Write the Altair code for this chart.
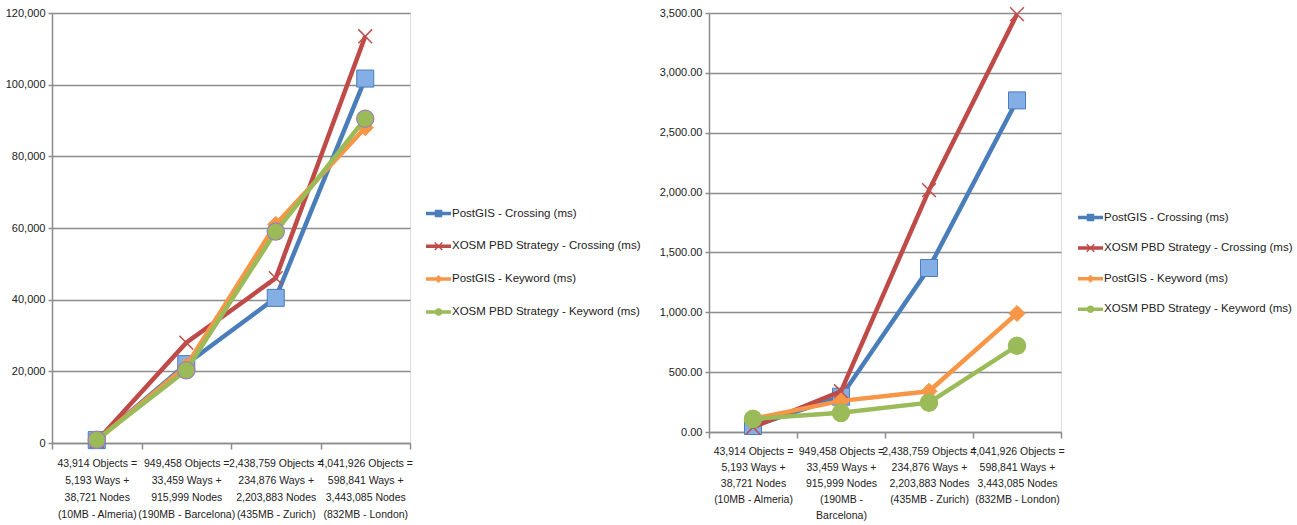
import altair as alt
import pandas as pd

FONT = "Liberation Sans, Arial, sans-serif"

series_names = [
    "PostGIS - Crossing (ms)",
    "XOSM PBD Strategy - Crossing (ms)",
    "PostGIS - Keyword (ms)",
    "XOSM PBD Strategy - Keyword (ms)",
]
series_colors = ["#4a7ebb", "#be4b48", "#f79646", "#9bbb59"]

categories = ["Almeria", "Barcelona", "Zurich", "London"]
left_labels = [
    "43,914 Objects =|5,193 Ways +|38,721 Nodes|(10MB - Almeria)",
    "949,458 Objects =|33,459 Ways +|915,999 Nodes|(190MB - Barcelona)",
    "2,438,759 Objects =|234,876 Ways +|2,203,883 Nodes|(435MB - Zurich)",
    "4,041,926 Objects =|598,841 Ways +|3,443,085 Nodes|(832MB - London)",
]
right_labels = [
    "43,914 Objects =|5,193 Ways +|38,721 Nodes|(10MB - Almeria)",
    "949,458 Objects =|33,459 Ways +|915,999 Nodes|(190MB -|Barcelona)",
    "2,438,759 Objects =|234,876 Ways +|2,203,883 Nodes|(435MB - Zurich)",
    "4,041,926 Objects =|598,841 Ways +|3,443,085 Nodes|(832MB - London)",
]

# Left chart values
left_postgis_crossing = [800, 22000, 40500, 101700]
left_xosm_crossing = [500, 28000, 46000, 113500]
left_postgis_keyword = [700, 21500, 61000, 88000]
left_xosm_keyword = [900, 20300, 59000, 90500]

# Right chart values
right_postgis_crossing = [50, 295, 1370, 2770]
right_xosm_crossing = [40, 340, 2020, 3490]
right_postgis_keyword = [110, 260, 340, 990]
right_xosm_keyword = [110, 160, 245, 720]

left_ticks = [0, 20000, 40000, 60000, 80000, 100000, 120000]
right_ticks = [0, 500, 1000, 1500, 2000, 2500, 3000, 3500]

legend_paths = [
    "M-1,-0.14H1V0.14H-1Z M-0.3,-0.3H0.3V0.3H-0.3Z",
    "M-1,-0.14H1V0.14H-1Z M-0.34,-0.26L-0.26,-0.34L0.34,0.26L0.26,0.34Z M0.26,-0.34L0.34,-0.26L-0.26,0.34L-0.34,0.26Z",
    "M-1,-0.14H1V0.14H-1Z M0,-0.32L0.32,0L0,0.32L-0.32,0Z",
    "M-1,-0.14H1V0.14H-1Z M0.3,0A0.3,0.3 0 1,1 -0.3,0A0.3,0.3 0 1,1 0.3,0Z",
]

X_PATH = "M-1,-1L1,1M-1,1L1,-1"
GRID = "#8c8c8c"


def build_df(labels, series_values):
    rows = []
    for name, vals in zip(series_names, series_values):
        for lab, v in zip(labels, vals):
            rows.append({"label": lab, "series": name, "value": v})
    return pd.DataFrame(rows)


def panel(labels, series_values, ymax, ticks, yfmt, height, width, lx, ly, rowpad, line_h, lpad, green_stroke):
    df = build_df(labels, series_values)
    x = alt.X(
        "label:N",
        sort=labels,
        scale=alt.Scale(type="band", paddingInner=0, paddingOuter=0),
        axis=alt.Axis(
            title=None,
            labelExpr="datum.value ? split(datum.value, '|') : ''",
            labelAngle=0,
            labelAlign="center",
            labelBaseline="top",
            labelLineHeight=line_h,
            labelPadding=lpad,
            labelFont=FONT,
            labelFontSize=10.5,
            labelColor="#222222",
            tickBand="extent",
            tickColor=GRID,
            tickSize=6,
            tickWidth=1.5,
            domainColor=GRID,
            domainWidth=1.5,
            grid=False,
        ),
    )
    y = alt.Y(
        "value:Q",
        scale=alt.Scale(domain=[0, ymax], nice=False, zero=True),
        axis=alt.Axis(
            title=None,
            values=ticks,
            format=yfmt,
            grid=True,
            gridColor=GRID,
            gridWidth=1.5,
            domainColor=GRID,
            domainWidth=1.5,
            tickColor=GRID,
            tickSize=4,
            tickWidth=1.5,
            labelFont=FONT,
            labelFontSize=11,
            labelColor="#222222",
            labelPadding=3,
        ),
    )
    base = alt.Chart(df)
    layers = []
    styles = [
        dict(shape="square", fill="#84aee6", stroke="#4a7ebb", size=290, strokeWidth=1),
        dict(shape=X_PATH, fill="transparent", stroke="#c0504d", size=190, strokeWidth=1.5),
        dict(shape="diamond", fill="#f79646", stroke="#f79646", size=260, strokeWidth=1),
        dict(shape="circle", fill="#9bbb59", stroke=green_stroke, size=300, strokeWidth=1.2),
    ]
    for name, col, st in zip(series_names, series_colors, styles):
        sub = base.transform_filter(alt.datum.series == name)
        layers.append(sub.mark_line(color=col, strokeWidth=4.5).encode(x=x, y=y))
        layers.append(
            sub.mark_point(filled=False, opacity=1, **st).encode(x=x, y=y)
        )
    leg = alt.Legend(
        title=None,
        orient="none",
        legendX=lx,
        legendY=ly,
        symbolSize=625,
        symbolStrokeWidth=0,
        labelFont=FONT,
        labelFontSize=11.5,
        labelColor="#222222",
        labelOffset=1,
        labelLimit=400,
        rowPadding=rowpad,
    )
    legend_layer = base.transform_filter("false").mark_point(
        filled=True, opacity=1, strokeWidth=0
    ).encode(
        x=x,
        y=y,
        color=alt.Color(
            "series:N",
            scale=alt.Scale(domain=series_names, range=series_colors),
            legend=leg,
        ),
        shape=alt.Shape(
            "series:N",
            scale=alt.Scale(domain=series_names, range=legend_paths),
            legend=leg,
        ),
    )
    layers.append(legend_layer)
    return alt.layer(*layers).properties(width=width, height=height)


left = panel(
    left_labels,
    [left_postgis_crossing, left_xosm_crossing, left_postgis_keyword, left_xosm_keyword],
    120000, left_ticks, ",d", 430, 358, 374, 188, 14.8, 17, 9, "#9b7fb5",
)
right = panel(
    right_labels,
    [right_postgis_crossing, right_xosm_crossing, right_postgis_keyword, right_xosm_keyword],
    3500, right_ticks, ",.2f", 419, 352, 369, 192, 12.6, 16, 8, "#9bbb59",
)

chart = (
    alt.hconcat(left, right, spacing=16)
    .resolve_scale(color="independent", shape="independent", x="independent", y="independent")
    .resolve_legend(color="independent", shape="independent")
    .properties(padding={"left": 4, "top": 3, "right": 0, "bottom": 0})
    .configure_view(stroke=None)
    .configure(background="white")
)

chart.save("out.html", embed_options={"renderer": "svg", "actions": False})
